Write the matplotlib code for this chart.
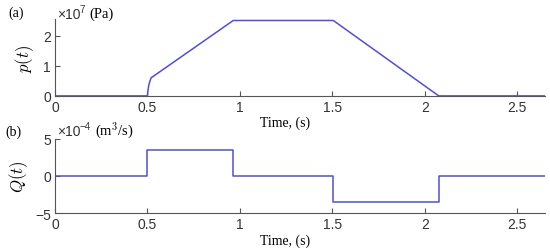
import numpy as np
import matplotlib
matplotlib.use('Agg')
import matplotlib.pyplot as plt

# dane
t_p = [0.0, 0.5, 0.503, 0.508, 0.514, 0.52, 0.964, 1.505, 2.075, 2.65]
p = [0.0, 0.0, 0.2e7, 0.38e7, 0.5e7, 0.6e7, 2.5e7, 2.5e7, 0.0, 0.0]

t_q = [0.0, 0.5, 0.5, 0.964, 0.964, 1.505, 1.505, 2.075, 2.075, 2.65]
q = [0.0, 0.0, 3.5e-4, 3.5e-4, 0.0, 0.0, -3.55e-4, -3.55e-4, 0.0, 0.0]

xticks = [0, 0.5, 1, 1.5, 2, 2.5]
xtick_labels = ['0', '0.5', '1', '1.5', '2', '2.5']

plt.rcParams['font.family'] = ['Liberation Sans', 'DejaVu Sans']
plt.rcParams['mathtext.fontset'] = 'cm'
kolor = '#4f4fd8'
szary = '#555555'
serif = 'Liberation Serif'

fig = plt.figure(figsize=(5.5, 2.53), dpi=100)
ax1 = fig.add_axes([0.1, 0.617, 0.891, 0.304])
ax2 = fig.add_axes([0.1, 0.154, 0.891, 0.293])

for ax in (ax1, ax2):
    ax.spines['top'].set_visible(False)
    ax.spines['right'].set_visible(False)
    ax.spines['left'].set_color(szary)
    ax.spines['bottom'].set_color(szary)
    ax.tick_params(direction='in', length=3.5, width=0.8, color=szary,
                   labelsize=10, labelcolor='#333333', pad=3)
    ax.set_xlim(0, 2.65)
    ax.set_xticks(xticks)
    ax.set_xticklabels(xtick_labels)
    ax.set_xlabel('Time, (s)', fontfamily=serif, fontsize=10)

ax1.plot(t_p, p, color=kolor, lw=1.1)
ax1.set_ylim(0, 2.55e7)
ax1.set_yticks([0, 1e7, 2e7])
ax1.set_yticklabels(['0', '1', '2'])
ax1.set_ylabel(r'$p(t)$', fontsize=12, labelpad=0)
ax1.xaxis.set_label_coords(0.47, -0.25)
ax1.yaxis.set_label_coords(-0.038, 0.5)

ax2.plot(t_q, q, color=kolor, lw=1.1)
ax2.set_ylim(-5e-4, 5e-4)
ax2.set_yticks([-5e-4, 0, 5e-4])
ax2.set_yticklabels(['\u22125', '0', '5'])
ax2.set_ylabel(r'$Q(t)$', fontsize=12, labelpad=0)
ax2.xaxis.set_label_coords(0.47, -0.27)
ax2.yaxis.set_label_coords(-0.052, 0.5)

# mnożniki i jednostki
def px(x, y):
    return x / 550, 1 - y / 253

fig.text(*px(57, 15), '\u00d710', fontsize=10, color='#333333', va='center', ha='left')
fig.text(*px(79, 10), '7', fontsize=7, color='#333333', va='center', ha='left')
fig.text(*px(89, 14), '(Pa)', fontsize=10.5, va='center', ha='left', family=serif)

fig.text(*px(57, 132), '\u00d710', fontsize=10, color='#333333', va='center', ha='left')
fig.text(*px(79, 127), '\u22124', fontsize=7, color='#333333', va='center', ha='left')
fig.text(*px(95, 131), r'(m$^3$/s)', fontsize=10.5, va='center', ha='left', family=serif)

fig.text(*px(8, 13), '(a)', fontsize=10, va='center', ha='left', family=serif)
fig.text(*px(5, 132), '(b)', fontsize=10, va='center', ha='left', family=serif)

fig.savefig('out.png', dpi=100)
